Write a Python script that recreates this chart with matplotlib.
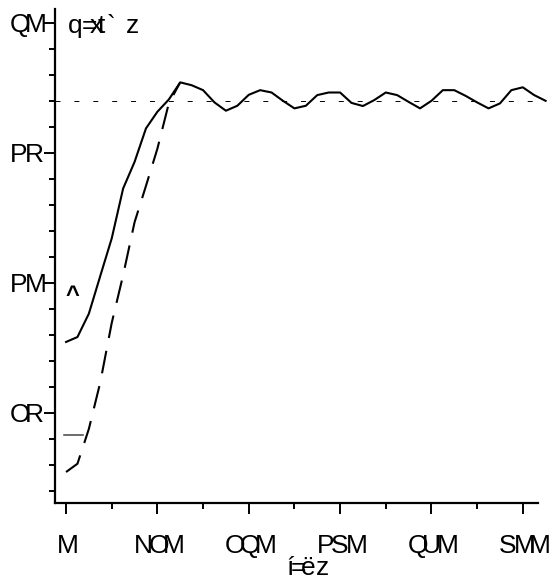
import matplotlib
matplotlib.use("Agg")
import matplotlib.pyplot as plt
from matplotlib.ticker import MultipleLocator

plt.rcParams['lines.scale_dashes'] = False

# time axis (s) and the two traces
t_solid = [0, 15, 30, 45, 60, 75, 90, 105, 120, 135, 150, 165, 180, 195, 210,
           225, 240, 255, 270, 285, 300, 315, 330, 345, 360, 375, 390, 405,
           420, 435, 450, 465, 480, 495, 510, 525, 540, 555, 570, 585, 600,
           615, 630]
v_solid = [27.73, 27.92, 28.82, 30.27, 31.71, 33.63, 34.65, 35.94, 36.58,
           37.05, 37.71, 37.60, 37.41, 36.94, 36.62, 36.81, 37.23, 37.41,
           37.32, 37.00, 36.71, 36.81, 37.22, 37.32, 37.32, 36.92, 36.80,
           37.03, 37.32, 37.22, 36.96, 36.71, 37.00, 37.41, 37.41, 37.19,
           36.94, 36.71, 36.90, 37.41, 37.52, 37.22, 37.00]

t_dash = [0, 15, 30, 45, 60, 75, 90, 105, 120, 135, 150]
v_dash = [22.73, 23.05, 24.39, 26.18, 28.46, 30.30, 32.33, 33.73, 35.16,
          36.90, 37.71]

t_seg = [-3, 22]
v_seg = [24.14, 24.14]

ref_level = 37

x_ticks = [0, 120, 240, 360, 480, 600]
x_labels = ['M', 'NOM', 'OQM', 'PSM', 'QUM', 'SMM']
y_ticks = [25, 30, 35, 40]
y_labels = ['OR', 'PM', 'PR', 'QM']
title_text = 'q=xt` z'
xlabel_text = 'í=ëz'

W, H = 556, 579
FS = 19                      # pt
FPX = FS * 100 / 72          # px
ADV = 0.556 * FPX            # every glyph advances like a digit
GLYPH_W = {'M': .833, 'N': .722, 'O': .778, 'P': .667, 'Q': .778,
           'R': .722, 'S': .667, 'U': .722}
FONT = 'Liberation Sans'

fig = plt.figure(figsize=(W / 100, H / 100), dpi=100)
ax = fig.add_axes([55 / W, (H - 503) / H, (538 - 55) / W, (503 - 9) / H])

ax.plot(t_dash, v_dash, color='black', lw=1.5, dashes=(16.5, 9.4), clip_on=False)
ax.plot(t_solid, v_solid, color='black', lw=1.5, clip_on=False)
ax.plot(t_seg, v_seg, color='#444444', lw=1.1, clip_on=False)
ax.axhline(ref_level, color='black', lw=0.7, dashes=(3.6, 10))

ax.annotate('^', xy=(8, 29.62), xycoords='data', xytext=(0, -9),
            textcoords='offset pixels', fontsize=17, family=FONT,
            fontweight='bold', ha='center', va='baseline')

ax.set_xlim(-14.5, 620)
ax.set_ylim(21.54, 40.53)

ax.set_xticks(x_ticks)
ax.set_xticklabels([''] * len(x_ticks))
ax.set_yticks(y_ticks)
ax.set_yticklabels([''] * len(y_ticks))
ax.xaxis.set_minor_locator(MultipleLocator(60))
ax.yaxis.set_minor_locator(MultipleLocator(1))

ax.tick_params(axis='both', which='major', length=8, width=1.4, direction='out')
ax.tick_params(axis='both', which='minor', length=4.3, width=1.4, direction='out')

for s in ['top', 'right']:
    ax.spines[s].set_visible(False)
for s in ['left', 'bottom']:
    ax.spines[s].set_linewidth(1.6)

# tick labels, one glyph at a time on a digit-wide pitch
for xv, lab in zip(x_ticks, x_labels):
    total = (len(lab) - 1) * ADV + GLYPH_W[lab[-1]] * FPX
    for i, ch in enumerate(lab):
        ax.annotate(ch, xy=(xv, 0), xycoords=('data', 'axes fraction'),
                    xytext=(-total / 2 + i * ADV + 2, -50),
                    textcoords='offset pixels', fontsize=FS, family=FONT,
                    ha='left', va='baseline')

for yv, lab in zip(y_ticks, y_labels):
    for i, ch in enumerate(lab):
        ax.annotate(ch, xy=(0, yv), xycoords=('axes fraction', 'data'),
                    xytext=(-45 + i * ADV, -9.5),
                    textcoords='offset pixels', fontsize=FS, family=FONT,
                    ha='left', va='baseline')

# title and axis title, glyph positions as they sit in the reference
title_x = [68, 82, 90, 98, 107, 116, 126]
for ch, px in zip(title_text, title_x):
    fig.text(px / W, 1 - 33 / H, ch, fontsize=FS, family=FONT,
             ha='left', va='baseline')

xlabel_x = [286, 291, 301, 316]
for ch, px in zip(xlabel_text, xlabel_x):
    fig.text(px / W, 1 - 575 / H, ch, fontsize=FS, family=FONT,
             ha='left', va='baseline')

fig.savefig('out.png', dpi=100)
